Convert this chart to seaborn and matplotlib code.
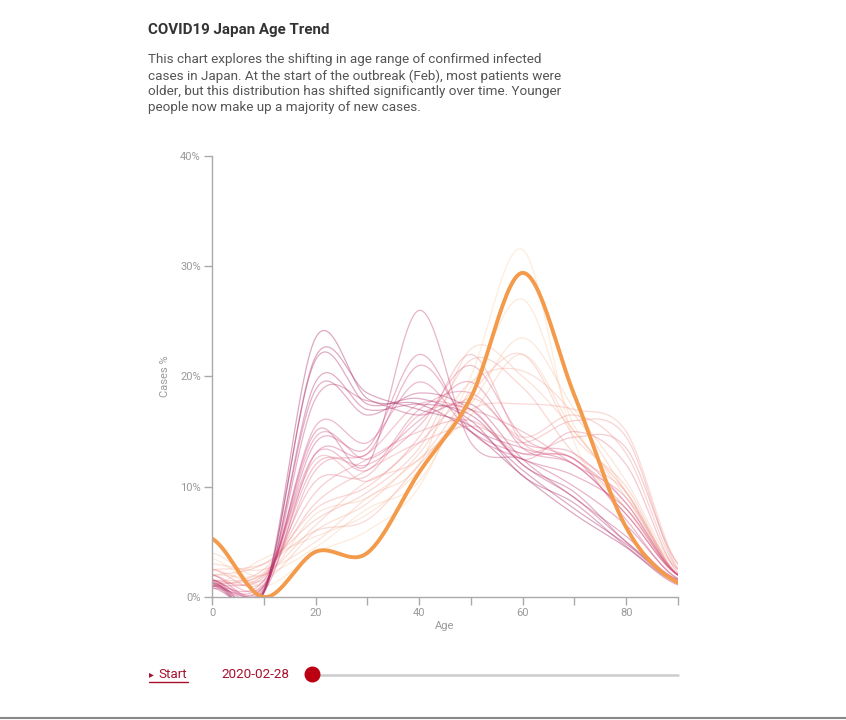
import numpy as np
import pandas as pd
import matplotlib
matplotlib.use("Agg")
import matplotlib.pyplot as plt
from matplotlib.lines import Line2D
import seaborn as sns

# Age brackets (x) and share of cases per bracket (%), one list per date, earliest first
ages = [0, 10, 20, 30, 40, 50, 60, 70, 80, 90]

highlight_date = "2020-02-28"
highlight = [5.3, 0.0, 4.1, 4.0, 11.3, 18.1, 29.4, 18.3, 6.3, 1.3]

# light (early) lines, peaking in the 50s-60s
early = [
    [3.5, 1.0, 4.0, 6.0, 10.0, 20.0, 31.5, 14.0, 8.0, 2.0],
    [2.0, 2.0, 4.5, 8.0, 10.5, 19.0, 27.0, 15.5, 9.5, 2.0],
    [1.0, 3.5, 5.5, 7.5, 11.5, 17.5, 23.5, 17.0, 10.5, 2.5],
    [4.0, 2.0, 7.5, 9.0, 12.5, 16.5, 22.0, 15.0, 9.5, 2.0],
    [3.0, 2.5, 5.0, 9.0, 12.0, 22.5, 20.0, 15.0, 9.0, 2.0],
    [2.5, 1.5, 6.0, 8.5, 13.0, 19.5, 20.5, 16.5, 9.5, 2.5],
    [1.5, 2.0, 6.5, 10.5, 12.5, 18.5, 22.0, 14.5, 10.0, 2.0],
    [2.5, 3.0, 6.0, 7.0, 12.0, 17.0, 17.5, 17.0, 15.0, 3.0],
    [2.0, 3.0, 7.0, 9.5, 13.5, 21.5, 19.0, 13.0, 9.5, 2.0],
    [1.0, 2.5, 8.0, 10.0, 14.0, 18.0, 14.5, 16.5, 13.0, 2.5],
]
# middle lines
middle = [
    [1.2, 2.2, 8.5, 11.5, 14.0, 15.5, 14.0, 16.0, 14.5, 2.6],
    [2.5, 1.5, 12.5, 10.5, 14.5, 22.0, 14.0, 12.5, 8.0, 2.0],
    [1.0, 2.0, 9.5, 12.5, 15.0, 16.0, 13.0, 14.5, 13.5, 3.0],
    [1.5, 1.8, 10.5, 11.0, 16.5, 17.0, 12.5, 15.0, 12.0, 2.2],
    [2.0, 1.0, 11.5, 13.0, 17.5, 17.0, 15.0, 12.0, 9.0, 2.0],
    [0.8, 1.2, 12.0, 12.0, 15.5, 21.0, 14.5, 12.5, 8.5, 2.0],
    [1.0, 1.5, 13.0, 11.5, 17.0, 18.5, 14.0, 13.0, 8.5, 2.0],
    [1.5, 1.0, 14.5, 12.5, 16.0, 19.5, 13.5, 12.0, 7.5, 2.0],
    [1.2, 0.7, 15.5, 14.0, 19.5, 15.0, 13.0, 12.5, 7.0, 1.6],
    [2.0, 0.5, 13.0, 13.0, 21.0, 15.5, 13.5, 12.0, 7.5, 2.0],
    [1.0, 1.0, 14.0, 13.5, 22.0, 15.0, 12.5, 11.0, 8.0, 2.0],
    [1.5, 0.8, 15.0, 12.0, 26.0, 14.0, 12.5, 10.0, 6.5, 1.7],
]
# dark (late) lines, peaking in the 20s
late = [
    [1.3, 0.4, 18.0, 17.8, 16.5, 17.5, 12.5, 9.0, 5.5, 1.5],
    [0.8, 0.5, 18.8, 16.5, 18.5, 17.0, 12.0, 9.5, 5.0, 1.4],
    [1.6, 0.3, 19.5, 17.0, 17.5, 16.5, 12.0, 9.0, 5.0, 1.6],
    [1.0, 0.6, 21.5, 17.5, 18.0, 16.0, 11.0, 8.5, 4.6, 1.3],
    [1.2, 0.4, 21.8, 18.5, 17.0, 15.5, 11.5, 8.0, 4.8, 1.3],
    [1.4, 0.5, 23.5, 18.0, 17.5, 15.0, 11.0, 7.5, 4.5, 1.1],
]

series = early + middle + late


def smooth(xs, ys, n=30):
    # cardinal (Catmull-Rom) curve through the points, like d3.curveCardinal
    xs = np.asarray(xs, float)
    ys = np.asarray(ys, float)
    ext = np.concatenate([[ys[0]], ys, [ys[-1]]])
    out_x, out_y = [], []
    for i in range(len(xs) - 1):
        p0, p1, p2, p3 = ext[i], ext[i + 1], ext[i + 2], ext[i + 3]
        m1 = (p2 - p0) / 2
        m2 = (p3 - p1) / 2
        t = np.linspace(0, 1, n, endpoint=(i == len(xs) - 2))
        h00 = 2 * t**3 - 3 * t**2 + 1
        h10 = t**3 - 2 * t**2 + t
        h01 = -2 * t**3 + 3 * t**2
        h11 = t**3 - t**2
        out_y.append(h00 * p1 + h10 * m1 + h01 * p2 + h11 * m2)
        out_x.append(xs[i] + t * (xs[i + 1] - xs[i]))
    return np.concatenate(out_x), np.concatenate(out_y)


rows = []
for k, vals in enumerate(series):
    sx, sy = smooth(ages, vals)
    rows.append(pd.DataFrame({"age": sx, "share": sy, "line": k}))
bg = pd.concat(rows, ignore_index=True)

hx, hy = smooth(ages, highlight)
hl = pd.DataFrame({"age": hx, "share": hy})

sns.set_theme(style="white")
plt.rcParams["font.family"] = ["Roboto", "DejaVu Sans"]

W, H = 846, 720
fig = plt.figure(figsize=(W / 100, H / 100), dpi=100)
ax = fig.add_axes([212 / W, 1 - 597 / H, (678 - 212) / W, (597 - 156) / H])

blend = sns.blend_palette(["#fbcfa6", "#f0938f", "#d24a7e", "#a11d5c"], len(series))
pal = {k: blend[k] for k in range(len(series))}

sns.lineplot(data=bg, x="age", y="share", hue="line", palette=pal, estimator=None,
             sort=False, legend=False, linewidth=0.9, alpha=0.38, ax=ax)
sns.lineplot(data=hl, x="age", y="share", color="#f39a4b", linewidth=2.8,
             estimator=None, sort=False, ax=ax)

ax.set_xlim(0, 90)
ax.set_ylim(0, 40)
ax.set_xticks(range(0, 91, 10))
ax.set_xticklabels([str(a) if a % 20 == 0 and a < 90 else "" for a in range(0, 91, 10)])
ax.set_yticks(range(0, 41, 10))
ax.set_yticklabels([f"{v}%" for v in range(0, 41, 10)])
ax.tick_params(axis="both", length=6, width=1, color="#aaaaaa", labelcolor="#9a9a9a",
               labelsize=8, bottom=True, left=True, pad=2)
for s in ["top", "right"]:
    ax.spines[s].set_visible(False)
for s in ["left", "bottom"]:
    ax.spines[s].set_color("#aaaaaa")
    ax.spines[s].set_linewidth(1)
ax.set_xlabel("Age", color="#9a9a9a", fontsize=8, labelpad=2)
ax.set_ylabel("Cases %", color="#9a9a9a", fontsize=8, labelpad=7)
ax.grid(False)

# header
fig.text(148 / W, 1 - 30 / H, "COVID19 Japan Age Trend", fontsize=10.9,
         fontweight="bold", color="#333333", va="center", ha="left")
desc = [
    "This chart explores the shifting in age range of confirmed infected",
    "cases in Japan. At the start of the outbreak (Feb), most patients were",
    "older, but this distribution has shifted significantly over time. Younger",
    "people now make up a majority of new cases.",
]
for i, line in enumerate(desc):
    fig.text(148 / W, 1 - (60 + 16 * i) / H, line, fontsize=9.7, color="#555555",
             va="center", ha="left")

# slider controls
red = "#a8102e"
fig.text(149 / W, 1 - 674 / H, "\u25b8", fontsize=7, color=red,
         va="center", ha="left", family=["DejaVu Sans"])
fig.text(158 / W, 1 - 674 / H, "Start", fontsize=9.7, color=red,
         va="center", ha="left")
fig.add_artist(Line2D([149 / W, 188 / W], [1 - 682 / H] * 2, color=red, lw=1,
                      transform=fig.transFigure))
fig.text(221 / W, 1 - 674 / H, highlight_date, fontsize=9.7, color=red,
         va="center", ha="left")
fig.add_artist(Line2D([318 / W, 678 / W], [1 - 675 / H] * 2, color="#cccccc", lw=1.8,
                      transform=fig.transFigure))
fig.add_artist(Line2D([312 / W], [1 - 674 / H], marker="o", markersize=10.5,
                      color="#bb0011", lw=0, transform=fig.transFigure))
fig.add_artist(Line2D([0, 1], [1 - 718 / H] * 2, color="#888888", lw=1.5,
                      transform=fig.transFigure))

fig.savefig("out.png", dpi=100)
